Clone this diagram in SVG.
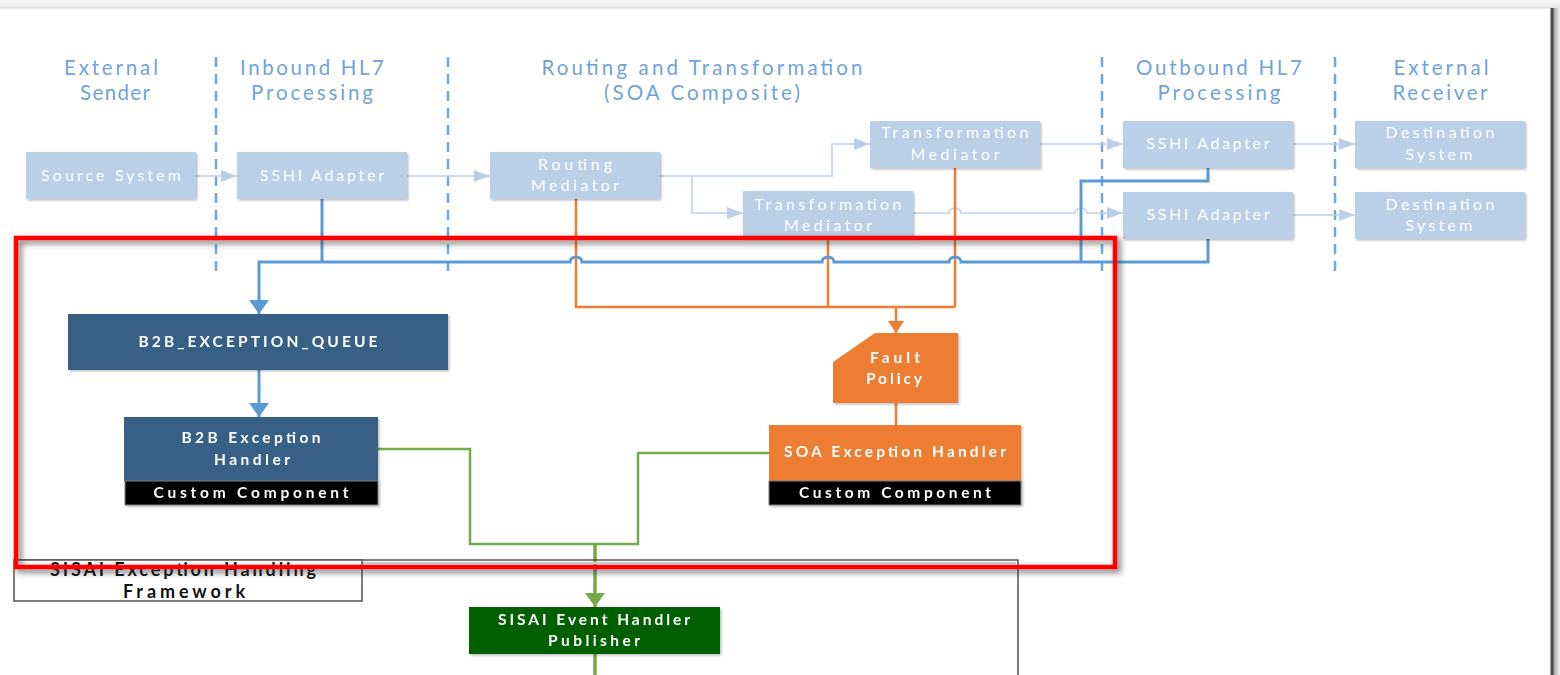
<svg xmlns="http://www.w3.org/2000/svg" width="1560" height="675" viewBox="0 0 1560 675">
<defs>
<style>
text{font-family:Lato,"Open Sans","Liberation Sans",sans-serif;text-anchor:middle}
.hdr{font-size:20.5px;fill:#6fa3da}
.lt{font-size:16px;fill:#ffffff}
.dk{font-size:15.5px;font-weight:bold;fill:#ffffff}
.lbl{font-size:18px;font-weight:bold;fill:#111111}
.lbox{fill:#bccfe8}
.dbox{fill:#376187}
.obox{fill:#ed7d31}
.cc{fill:#000000;stroke:#7f7f7f;stroke-width:1}
.dash{stroke:#6fa8dc;stroke-width:2.5;stroke-dasharray:10 7;fill:none}
.lc{stroke:#bccfe8;stroke-width:1.5;fill:none}
.bc{stroke:#5b9bd5;stroke-width:3;fill:none}
.oc{stroke:#ed7d31;stroke-width:2.5;fill:none}
.gc{stroke:#70ad47;stroke-width:2.5;fill:none}
.gct{stroke:#70ad47;stroke-width:3.5;fill:none}
</style>
<marker id="aL" markerUnits="userSpaceOnUse" markerWidth="16" markerHeight="12" refX="16" refY="6" orient="auto"><path d="M0,0 L16,6 L0,12 z" fill="#bccfe8"/></marker>
<marker id="aB" markerUnits="userSpaceOnUse" markerWidth="14" markerHeight="20" refX="14" refY="10" orient="auto"><path d="M0,0 L14,10 L0,20 z" fill="#5b9bd5"/></marker>
<marker id="aO" markerUnits="userSpaceOnUse" markerWidth="12" markerHeight="16" refX="12" refY="8" orient="auto"><path d="M0,0 L12,8 L0,16 z" fill="#ed7d31"/></marker>
<marker id="aG" markerUnits="userSpaceOnUse" markerWidth="14" markerHeight="20" refX="14" refY="10" orient="auto"><path d="M0,0 L14,10 L0,20 z" fill="#70ad47"/></marker>
<filter id="sh" x="-10%" y="-20%" width="130%" height="150%"><feDropShadow dx="1.5" dy="1.5" stdDeviation="1.2" flood-color="#000" flood-opacity="0.25"/></filter>
<filter id="rsh" x="-5%" y="-5%" width="110%" height="115%"><feDropShadow dx="3" dy="3" stdDeviation="3" flood-color="#333" flood-opacity="0.75"/></filter>
<linearGradient id="topg" x1="0" y1="0" x2="0" y2="1"><stop offset="0" stop-color="#fafafa"/><stop offset="1" stop-color="#e4e4e4"/></linearGradient>
<linearGradient id="rg" x1="0" y1="0" x2="1" y2="0"><stop offset="0" stop-color="#9a9a9a"/><stop offset="1" stop-color="#f4f4f4"/></linearGradient>
</defs>

<rect x="0" y="0" width="1560" height="675" fill="#ffffff"/>
<g id="page">
<rect x="0" y="0" width="1560" height="8" fill="url(#topg)"/>
<line x1="0" y1="8" x2="1552" y2="8" stroke="#dcdcdc" stroke-width="1"/>
<rect x="1553" y="8" width="7" height="667" fill="url(#rg)"/>
<line x1="1552" y1="8" x2="1552" y2="675" stroke="#4a4a4a" stroke-width="3"/>
</g>

<g id="lanes">
<line class="dash" x1="216" y1="57" x2="216" y2="272"/>
<line class="dash" x1="448" y1="57" x2="448" y2="272"/>
<line class="dash" x1="1102" y1="57" x2="1102" y2="272"/>
<line class="dash" x1="1335" y1="57" x2="1335" y2="272"/>
<text class="hdr" x="111" y="75" textLength="94">External</text>
<text class="hdr" x="115" y="100" textLength="70">Sender</text>
<text class="hdr" x="312" y="75" textLength="144">Inbound HL7</text>
<text class="hdr" x="312" y="100" textLength="122">Processing</text>
<text class="hdr" x="702" y="75" textLength="321">Routing and Transformation</text>
<text class="hdr" x="702" y="100" textLength="196">(SOA Composite)</text>
<text class="hdr" x="1219" y="75" textLength="166">Outbound HL7</text>
<text class="hdr" x="1219" y="100" textLength="123">Processing</text>
<text class="hdr" x="1441" y="75" textLength="95">External</text>
<text class="hdr" x="1440" y="100" textLength="95">Receiver</text>
</g>

<g id="connectors">
<path class="lc" d="M196,176 H237" marker-end="url(#aL)"/>
<path class="lc" d="M407,176 H490" marker-end="url(#aL)"/>
<path class="lc" d="M660,176 H832 V144 H870" marker-end="url(#aL)"/>
<path class="lc" d="M692,176 V213 H743" marker-end="url(#aL)"/>
<path class="lc" d="M1040,144 H1123" marker-end="url(#aL)"/>
<path class="lc" d="M913,213 H949 a6,5 0 0 1 12,0 H1075 a6,5 0 0 1 12,0 H1123" marker-end="url(#aL)"/>
<path class="lc" d="M1293,144 H1355" marker-end="url(#aL)"/>
<path class="lc" d="M1293,215 H1355" marker-end="url(#aL)"/>

<path class="oc" d="M576,199 V307 H955"/>
<path class="oc" d="M828,238 V307"/>
<path class="oc" d="M955,168 V307"/>
<path class="oc" d="M896,307 V333" marker-end="url(#aO)"/>
<path class="oc" d="M896,403 V425"/>

<path class="bc" d="M322,199 V262"/>
<path class="bc" d="M1208,239 V262 H961 a6,5 0 0 0 -12,0 H834 a6,5 0 0 0 -12,0 H582 a6,5 0 0 0 -12,0 H259 V314" marker-end="url(#aB)"/>
<path class="bc" d="M1208,168 V181 H1081 V262"/>
<path class="bc" d="M259,370 V417" marker-end="url(#aB)"/>

<path class="gc" d="M378,449 H470 V544 H638 V453 H769"/>
<path class="gct" d="M595,544 V607" marker-end="url(#aG)"/>
<path class="gct" d="M595,654 V675"/>
</g>

<g id="source-system" filter="url(#sh)">
<rect class="lbox" x="26" y="152" width="170" height="47"/>
<text class="lt" x="111" y="181" textLength="140">Source System</text>
</g>
<g id="sshi-inbound" filter="url(#sh)">
<rect class="lbox" x="237" y="152" width="170" height="47"/>
<text class="lt" x="322" y="181" textLength="124">SSHI Adapter</text>
</g>
<g id="routing-mediator" filter="url(#sh)">
<rect class="lbox" x="490" y="152" width="170" height="47"/>
<text class="lt" x="575" y="170" textLength="74">Routing</text>
<text class="lt" x="575" y="191" textLength="88">Mediator</text>
</g>
<g id="transformation-top" filter="url(#sh)">
<rect class="lbox" x="870" y="121" width="170" height="47"/>
<text class="lt" x="955" y="138" textLength="147">Transformation</text>
<text class="lt" x="955" y="160" textLength="89">Mediator</text>
</g>
<g id="transformation-bottom" filter="url(#sh)">
<rect class="lbox" x="743" y="191" width="170" height="47"/>
<text class="lt" x="828" y="210" textLength="147">Transformation</text>
<text class="lt" x="828" y="231" textLength="88">Mediator</text>
</g>
<g id="sshi-out-top" filter="url(#sh)">
<rect class="lbox" x="1123" y="121" width="170" height="47"/>
<text class="lt" x="1208" y="149" textLength="123">SSHI Adapter</text>
</g>
<g id="sshi-out-bottom" filter="url(#sh)">
<rect class="lbox" x="1123" y="192" width="170" height="47"/>
<text class="lt" x="1208" y="220" textLength="123">SSHI Adapter</text>
</g>
<g id="dest-top" filter="url(#sh)">
<rect class="lbox" x="1355" y="121" width="170" height="47"/>
<text class="lt" x="1440" y="138" textLength="109">Destination</text>
<text class="lt" x="1439" y="160" textLength="67">System</text>
</g>
<g id="dest-bottom" filter="url(#sh)">
<rect class="lbox" x="1355" y="192" width="170" height="47"/>
<text class="lt" x="1440" y="210" textLength="109">Destination</text>
<text class="lt" x="1439" y="231" textLength="67">System</text>
</g>

<g id="b2b-queue" filter="url(#sh)">
<rect class="dbox" x="68" y="314" width="380" height="56"/>
<text class="dk" x="258" y="347" textLength="239">B2B_EXCEPTION_QUEUE</text>
</g>
<g id="b2b-handler" filter="url(#sh)">
<rect class="dbox" x="124" y="417" width="254" height="64"/>
<text class="dk" x="251" y="443" textLength="139">B2B Exception</text>
<text class="dk" x="252" y="465" textLength="76">Handler</text>
<rect class="cc" x="125" y="481" width="253" height="24"/>
<text class="dk" x="251" y="498" textLength="195">Custom Component</text>
</g>
<g id="fault-policy" filter="url(#sh)">
<path class="obox" d="M875,333 H958 V403 H833 V362 z"/>
<text class="dk" x="895" y="363" textLength="50">Fault</text>
<text class="dk" x="894" y="384" textLength="56">Policy</text>
</g>
<g id="soa-handler" filter="url(#sh)">
<rect class="obox" x="769" y="425" width="252" height="56"/>
<text class="dk" x="895" y="457" textLength="222">SOA Exception Handler</text>
<rect class="cc" x="769" y="481" width="252" height="24"/>
<text class="dk" x="895" y="498" textLength="192">Custom Component</text>
</g>
<g id="sisai-publisher" filter="url(#sh)">
<rect x="469" y="607" width="251" height="47" fill="#006100"/>
<text class="dk" x="594" y="625" textLength="192">SISAI Event Handler</text>
<text class="dk" x="594" y="646" textLength="92">Publisher</text>
</g>

<g id="framework">
<path d="M16,560 H1018 V675" fill="none" stroke="#555555" stroke-width="1.5"/>
<line x1="16" y1="563" x2="1016" y2="563" stroke="#d0d0d0" stroke-width="2"/>
<rect x="14" y="560" width="348" height="41" fill="#ffffff" stroke="#555555" stroke-width="1.5"/>
<text class="lbl" x="183" y="576" textLength="266">SISAI Exception Handling</text>
<text class="lbl" x="184" y="598" textLength="122">Framework</text>
</g>

<g id="highlight">
<rect x="16" y="238" width="1099" height="329" fill="none" stroke="#ff0000" stroke-width="4.5" filter="url(#rsh)"/>
</g>
</svg>
